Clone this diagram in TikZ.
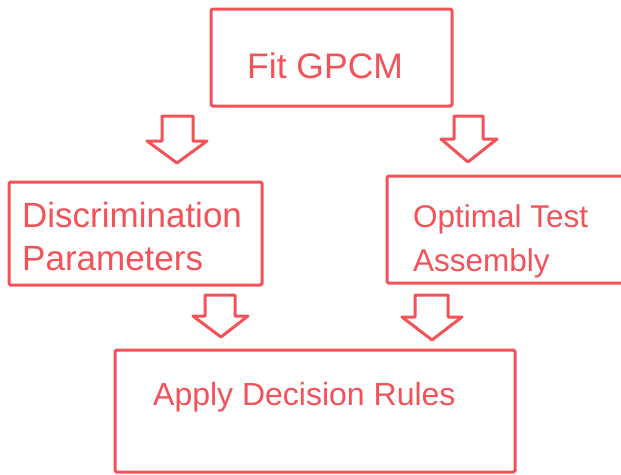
\documentclass[tikz,border=0pt]{standalone}
\usepackage{fontspec}
\setmainfont{Liberation Sans}
\definecolor{boxred}{RGB}{242,82,88}
\tikzset{
  box/.style={draw=boxred, line width=3pt, rounded corners=1.5pt},
  lbl/.style={text=boxred, inner sep=0pt, anchor=base west, align=left},
  blockarrow/.style={draw=boxred, line width=3pt, line join=round, fill=white}
}
\begin{document}
\begin{tikzpicture}[x=1pt,y=-1pt]
\useasboundingbox (0,0) rectangle (621,474);
\clip (0,0) rectangle (621,474);
% boxes
\draw[box] (211,9) rectangle (452,106);
\draw[box] (9,182) rectangle (262,285);
\draw[box] (387,176) rectangle (640,283);
\draw[box] (115,350) rectangle (515,472);
% labels
\node[lbl, font=\fontsize{35.5}{40}\selectfont] (fit) at (247,78) {Fit GPCM};
\node[lbl, font=\fontsize{35}{37}\selectfont] (disc) at (22,227) {Discrimination};
\node[lbl, font=\fontsize{35}{37}\selectfont] (par) at (22,270) {Parameters};
\node[lbl, font=\fontsize{31.5}{30}\selectfont] (opt) at (413,227) {Optimal Test};
\node[lbl, font=\fontsize{31.5}{30}\selectfont] (asm) at (413,271) {Assembly};
\node[lbl, font=\fontsize{32}{32}\selectfont] (app) at (153,405) {Apply Decision Rules};
% block arrows
\draw[blockarrow] (162,116) -- (193,116) -- (193,141) -- (207,141) -- (177,163) -- (147,141) -- (162,141) -- cycle;
\draw[blockarrow] (454,116) -- (483,116) -- (483,139) -- (497,139) -- (468,162) -- (441,139) -- (454,139) -- cycle;
\draw[blockarrow] (205,295) -- (235,295) -- (235,316) -- (248,316) -- (221,337) -- (193,316) -- (205,316) -- cycle;
\draw[blockarrow] (415,295) -- (448,295) -- (448,317) -- (462,317) -- (432,340) -- (402,317) -- (415,317) -- cycle;
\end{tikzpicture}
\end{document}
